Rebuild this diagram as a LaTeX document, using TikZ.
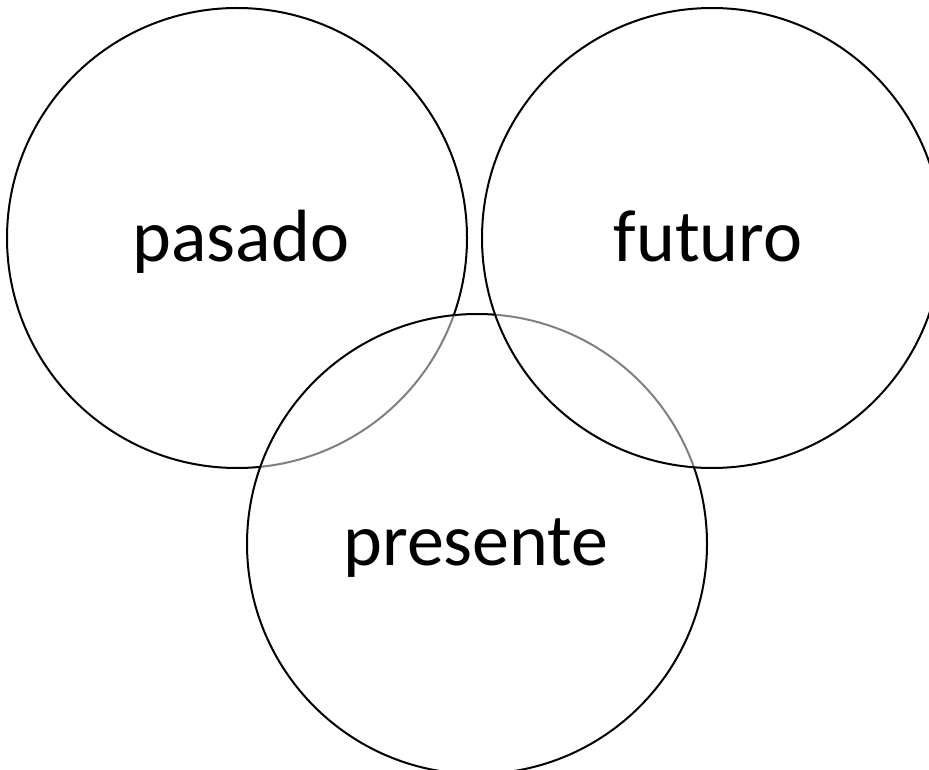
\documentclass[tikz,border=0pt]{standalone}
\usepackage{fontspec}
\setmainfont{Carlito}
\begin{document}
\begin{tikzpicture}[x=0.5pt,y=-0.5pt,
				ring/.style={circle,draw,line width=1pt,fill=white,fill opacity=0.5,
					draw opacity=1,minimum size=230pt,inner sep=0pt},
				word/.style={anchor=base,inner sep=0pt,font=\fontsize{37}{44}\selectfont}]
\useasboundingbox (0,0) rectangle (929,769);
\node[ring] (pasadoRing) at (237,238) {};
\node[ring] (presenteRing) at (477,544) {};
\node[ring] (futuroRing) at (712,238) {};
\node[word] (pasado) at (241,262) {pasado};
\node[word] (futuro) at (708,262) {futuro};
\node[word] (presente) at (476,565) {presente};
\end{tikzpicture}
\end{document}
